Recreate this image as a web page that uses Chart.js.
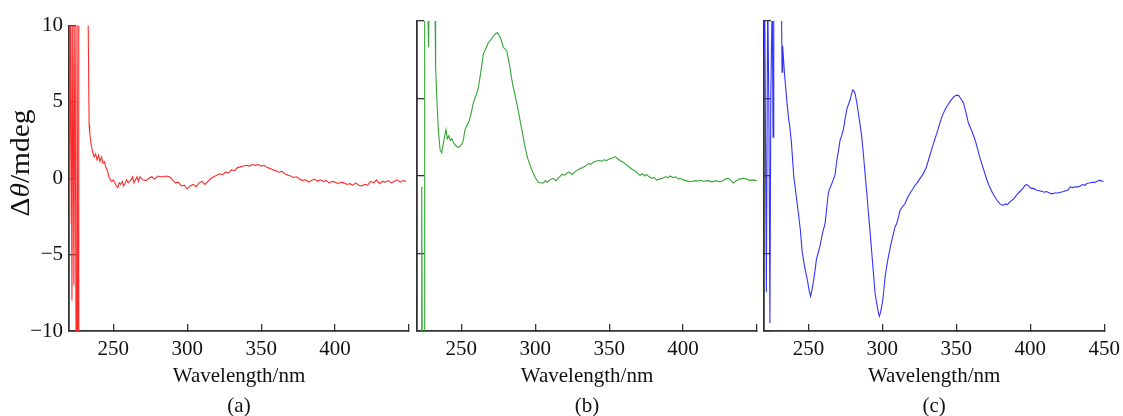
<!DOCTYPE html>
<html lang="en">
<head>
    <meta charset="UTF-8">
    <title>CD spectra</title>
    <script src="https://cdn.jsdelivr.net/npm/chart.js"></script>
    <style>
        body { margin: 0; background: #fff; width: 1123px; height: 416px; overflow: hidden; position: relative; }
        canvas { position: absolute; top: 0; }
    </style>
</head>
<body>
    <canvas id="chartA" width="422" height="416" style="left:0px"></canvas>
    <canvas id="chartB" width="360" height="416" style="left:410px"></canvas>
    <canvas id="chartC" width="383" height="416" style="left:750px"></canvas>

    <script>
        // tick labels
        const xTicks = [250, 300, 350, 400, 450];
        const yTicks = [-10, -5, 0, 5, 10];

        // (a) red
        const waveA = [
            220, 220.5, 221.2, 222, 222.6, 223.3, 224, 224.8, 225.4, 226.1,
            226.6, 229, 232.8, 233.6, 234, 235, 236, 237, 238, 239,
            240, 241, 242, 243, 244, 245, 246, 247, 248, 249,
            250, 251, 252, 253, 254, 255, 256, 257, 258, 259,
            260, 262, 263, 264, 266, 267, 268, 270, 272, 274,
            276, 278, 280, 282, 284, 286, 288, 290, 292, 294,
            296, 298, 300, 302, 304, 306, 308, 310, 312, 314,
            316, 318, 320, 322, 324, 326, 328, 330, 332, 334,
            336, 338, 340, 342, 344, 346, 348, 350, 352, 354,
            356, 358, 360, 362, 364, 366, 368, 370, 372, 374,
            376, 378, 380, 382, 384, 386, 388, 390, 392, 394,
            396, 398, 400, 402, 404, 406, 408, 410, 412, 414,
            416, 418, 420, 422, 424, 426, 428, 430, 432, 434,
            436, 438, 440, 442, 444, 446, 448
        ];
        const cdA = [
            11, -3, 12, -8, 12, -7, 12, -12, 12, -12,
            12, 25, 12, 3.5, 3.0, 2.2, 1.7, 1.4, 1.6, 1.2,
            1.5, 1.1, 1.4, 1.0, 1.1, 0.7, 0.5, 0.1, -0.1, -0.2,
            -0.1, -0.3, -0.5, -0.6, -0.3, -0.4, -0.2, -0.5, -0.3, -0.1,
            -0.3, -0.1, 0.1, -0.3, 0.1, -0.2, 0.1, -0.1, -0.15, 0.0,
            0.1, -0.05, 0.15, 0.1, 0.1, 0.15, 0.1, -0.1, -0.3, -0.25,
            -0.5, -0.45, -0.7, -0.5, -0.4, -0.55, -0.3, -0.2, -0.4, -0.2,
            0.0, 0.1, 0.2, 0.3, 0.25, 0.4, 0.35, 0.55, 0.5, 0.7,
            0.75, 0.8, 0.85, 0.8, 0.9, 0.85, 0.9, 0.8, 0.85, 0.7,
            0.65, 0.55, 0.5, 0.4, 0.45, 0.3, 0.2, 0.15, 0.05, 0.1,
            -0.05, -0.15, -0.1, -0.25, -0.15, -0.05, -0.2, -0.1, -0.2, -0.15,
            -0.3, -0.2, -0.25, -0.35, -0.25, -0.3, -0.4, -0.35, -0.45, -0.3,
            -0.45, -0.5, -0.4, -0.45, -0.2, -0.3, -0.1, -0.35, -0.2, -0.25,
            -0.15, -0.3, -0.2, -0.1, -0.25, -0.15, -0.2
        ];

        // (b) green
        const waveB = [
            221, 223, 223.2, 223.6, 224.8, 225.2, 227.2, 227.8, 228.3, 231,
            232.2, 232.6, 233.2, 234.4, 235.6, 236.7, 238, 239.6, 240.5, 241.5,
            242.5, 243.5, 245, 246.8, 248, 249, 250.5, 251.3, 252.5, 254,
            255.4, 257, 258, 260, 261.5, 263, 264.9, 266.5, 268.2, 270,
            271.5, 272.8, 274.4, 276, 277.5, 278.4, 280.7, 282.5, 284, 285.2,
            287.5, 289.7, 291.5, 293, 295, 297.6, 300, 302, 304, 305.5,
            307, 308, 310, 312, 314, 316, 318, 320, 321.3, 323,
            325, 327, 329, 331, 333, 334.8, 336, 337.5, 339.4, 341,
            343, 345, 346.5, 348.4, 350, 352, 354, 356, 358, 360,
            361.9, 364, 366, 368, 369.5, 370.9, 372.5, 374, 375.4, 377,
            379, 380.5, 382.2, 384, 386, 388, 390, 391.2, 393, 395,
            397, 398, 400, 402, 404.7, 406, 408, 410, 412, 414,
            416, 418, 420, 422, 425, 427, 428.5, 430.6, 432, 434,
            436, 438, 440.8, 443, 445, 447, 449.8
        ];
        const cdB = [
            -12, -12, -0.7, -12, -12, 12, 12, 8.3, 12, 14,
            10.5, 7, 5.5, 3.0, 1.7, 1.5, 2.2, 3.0, 2.4, 2.6,
            2.3, 2.4, 2.1, 1.9, 1.85, 1.9, 2.1, 2.3, 3.0, 3.3,
            3.6, 4.2, 4.7, 5.2, 5.7, 6.6, 7.9, 8.2, 8.6, 8.8,
            9.0, 9.15, 9.25, 9.0, 8.6, 8.3, 8.1, 7.2, 6.3, 5.7,
            4.7, 3.6, 2.7, 1.9, 1.1, 0.4, -0.1, -0.4, -0.45, -0.45,
            -0.3, -0.4, -0.25, -0.15, -0.3, -0.1, 0.1, 0.05, 0.2, 0.25,
            0.1, 0.3, 0.4, 0.5, 0.6, 0.7, 0.8, 0.75, 0.9, 0.95,
            1.0, 0.95, 1.05, 1.0, 1.1, 1.15, 1.25, 1.1, 0.95, 0.85,
            0.7, 0.55, 0.4, 0.3, 0.15, 0.05, 0.15, 0.0, 0.1, -0.05,
            -0.15, -0.1, -0.26, -0.2, -0.15, -0.05, -0.1, 0.0, -0.1, -0.05,
            -0.2, -0.15, -0.25, -0.3, -0.37, -0.35, -0.3, -0.32, -0.28, -0.35,
            -0.3, -0.33, -0.38, -0.3, -0.37, -0.3, -0.2, -0.15, -0.25, -0.45,
            -0.3, -0.2, -0.15, -0.2, -0.28, -0.25, -0.3
        ];

        // (c) blue
        const waveC = [
            220, 220.3, 220.6, 221.6, 222.5, 223.3, 224, 224.6, 225.6, 226.1,
            226.6, 229, 231.8, 232.2, 232.6, 234, 235.6, 236.5, 237.4, 238.5,
            240.1, 241.8, 243.5, 244.6, 245.7, 247, 248, 249.5, 250.5, 251.5,
            252.5, 253.6, 254.5, 255.4, 256.5, 257.9, 259.5, 261.3, 262.5, 263.5,
            264.5, 265.8, 267, 268, 269.2, 270.3, 271.4, 272.5, 273.7, 275,
            276, 277, 278.2, 279.2, 280, 280.8, 281.6, 282.8, 283.8, 285,
            286.1, 287.2, 288.3, 289.5, 290.6, 291.8, 292.9, 294, 295.1, 296.5,
            297.5, 298, 299, 300.3, 301.9, 303, 304.1, 305.8, 307.5, 308.5,
            309.8, 311, 312, 313.5, 315.4, 317, 318.8, 320.5, 322, 323.3,
            325.5, 327.8, 329.5, 331.2, 333, 334.6, 336.8, 338.5, 340.2, 342,
            343.6, 345.8, 348.1, 349.8, 351.5, 353, 354.9, 356.5, 358.2, 360.5,
            362.8, 364.5, 366.1, 368.5, 370.7, 372.5, 374.5, 377.4, 379.5, 381.5,
            383, 384.5, 386.4, 388.5, 391, 393, 395, 396.5, 397.7, 399,
            400.5, 402.2, 404, 406, 408, 409.5, 411, 413, 414.6, 416.5,
            418.5, 420.5, 422.5, 424, 425.5, 427, 428.5, 430.5, 432, 433.8,
            435.5, 437, 438.3, 440, 442, 443.5, 445, 446.5, 447.5, 449.5
        ];
        const cdC = [
            11, 8, 12, -7.5, 12, 4.3, -9.5, 5, 12, 2.5,
            12, 20, 11, 6.7, 8.4, 6.4, 4.7, 3.8, 3.2, 2.2,
            0.0, -1.3, -2.6, -3.5, -4.8, -5.6, -6.1, -6.8, -7.4, -7.75,
            -7.3, -6.7, -6.1, -5.4, -5.0, -4.5, -3.7, -3.05, -2.0, -1.1,
            -0.8, -0.5, -0.2, 0.06, 1.0, 1.6, 2.3, 2.6, 3.0, 3.8,
            4.3, 4.6, 4.9, 5.3, 5.55, 5.5, 5.3, 4.7, 4.05, 3.3,
            2.5, 1.4, 0.17, -1.1, -2.4, -3.7, -5.0, -6.3, -7.6, -8.4,
            -8.9, -9.05, -8.7, -8.0, -6.5, -5.8, -5.2, -4.4, -3.7, -3.3,
            -3.05, -2.6, -2.2, -2.0, -1.76, -1.4, -1.1, -0.85, -0.6, -0.47,
            -0.15, 0.17, 0.5, 1.03, 1.6, 2.1, 2.75, 3.3, 3.8, 4.2,
            4.5, 4.8, 5.1, 5.2, 5.2, 5.0, 4.7, 4.1, 3.4, 2.9,
            2.3, 1.7, 1.14, 0.4, -0.26, -0.7, -1.1, -1.55, -1.8, -1.9,
            -1.8, -1.85, -1.65, -1.5, -1.2, -1.0, -0.8, -0.6, -0.55, -0.65,
            -0.8, -0.8, -0.9, -0.95, -1.0, -1.05, -1.0, -1.1, -1.15, -1.1,
            -1.1, -1.05, -1.0, -0.95, -0.9, -0.7, -0.75, -0.7, -0.7, -0.65,
            -0.55, -0.6, -0.47, -0.45, -0.4, -0.42, -0.35, -0.28, -0.3, -0.35
        ];

        const serif = "'Liberation Serif', 'Times New Roman', serif";
        const axisColor = '#333';

        // y axis title with italic theta, drawn on panel (a)
        const yTitlePlugin = {
            id: 'yTitle',
            afterDraw(chart) {
                if (chart.canvas.id !== 'chartA') return;
                const ctx = chart.ctx;
                const parts = [['\u0394', ''], ['\u03b8', 'italic '], ['/mdeg', '']];
                ctx.save();
                ctx.translate(22, 163);
                ctx.rotate(-Math.PI / 2);
                ctx.fillStyle = '#111';
                ctx.textBaseline = 'middle';
                let total = 0;
                const widths = parts.map(p => {
                    ctx.font = p[1] + '28px ' + serif;
                    const w = ctx.measureText(p[0]).width;
                    total += w;
                    return w;
                });
                ctx.scale(107 / total, 1);
                let x = -total / 2;
                parts.forEach((p, i) => {
                    ctx.font = p[1] + '28px ' + serif;
                    ctx.fillText(p[0], x, 0);
                    x += widths[i];
                });
                ctx.restore();
            }
        };

        // one panel; the right gap comes from the x tick padding / last label
        function makePanel(canvasId, waves, values, color, letter, yAxisWidth, showYLabels, showLast) {
            const ctx = document.getElementById(canvasId).getContext('2d');
            return new Chart(ctx, {
                type: 'line',
                data: {
                    datasets: [{
                        data: waves.map((w, i) => ({x: w, y: values[i]})),
                        borderColor: color,
                        borderWidth: 1.1,
                        pointRadius: 0,
                        tension: 0,
                        fill: false
                    }]
                },
                options: {
                    responsive: false,
                    animation: false,
                    layout: { padding: { left: 0, right: 0, top: 21, bottom: 0 } },
                    plugins: { legend: { display: false }, tooltip: { enabled: false } },
                    scales: {
                        x: {
                            type: 'linear',
                            min: 220,
                            max: 450,
                            afterBuildTicks: s => { s.ticks = xTicks.map(v => ({value: v})); },
                            afterFit: s => { s.height = 85; },
                            grid: { drawOnChartArea: false, tickLength: -7, color: axisColor, lineWidth: 1.3 },
                            border: { color: axisColor, width: 1.8 },
                            ticks: {
                                padding: 13,
                                color: '#111',
                                font: { family: serif, size: 21 },
                                maxRotation: 0,
                                callback: v => (v === 450 && !showLast) ? '' : v
                            },
                            title: {
                                display: true,
                                text: ['Wavelength/nm', letter],
                                color: '#111',
                                font: { family: serif, size: 21, lineHeight: 1.4 },
                                padding: { top: 0, bottom: -5 }
                            }
                        },
                        y: {
                            min: -10,
                            max: 10,
                            afterBuildTicks: s => { s.ticks = yTicks.map(v => ({value: v})); },
                            afterFit: s => { s.width = yAxisWidth; },
                            grid: { drawOnChartArea: false, tickLength: -7, color: axisColor, lineWidth: 1.3 },
                            border: { color: axisColor, width: 1.8 },
                            ticks: {
                                display: showYLabels,
                                padding: 13,
                                color: '#111',
                                font: { family: serif, size: 21 },
                                callback: v => v < 0 ? '\u2212' + Math.abs(v) : v
                            }
                        }
                    }
                },
                plugins: [yTitlePlugin]
            });
        }

        makePanel('chartA', waveA, cdA, '#ff2a2a', '(a)', 69, true, false);
        makePanel('chartB', waveB, cdB, '#34a534', '(b)', 7, false, false);
        makePanel('chartC', waveC, cdC, '#3333ff', '(c)', 14, false, true);
    </script>
</body>
</html>
